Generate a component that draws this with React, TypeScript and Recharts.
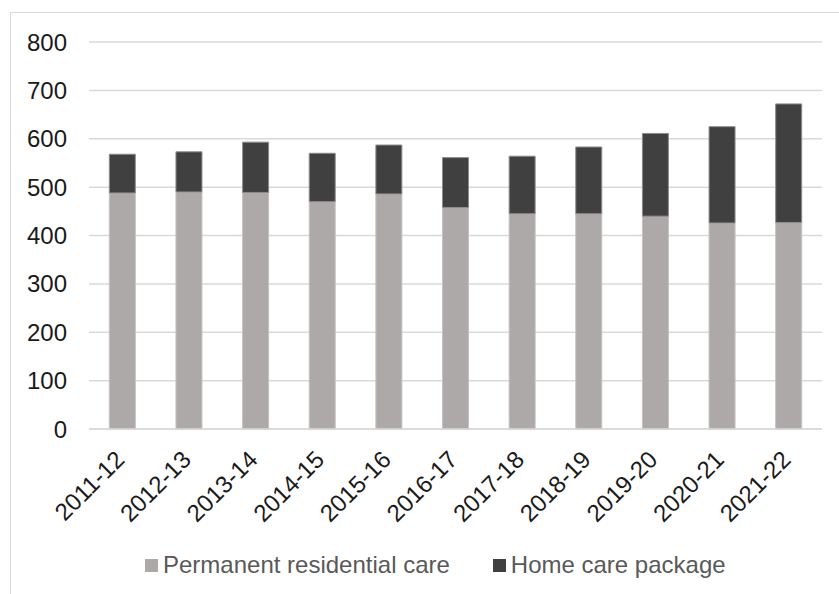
import { BarChart, Bar, XAxis, YAxis, CartesianGrid, Legend } from 'recharts';

const categories = [
  '2011-12',
  '2012-13',
  '2013-14',
  '2014-15',
  '2015-16',
  '2016-17',
  '2017-18',
  '2018-19',
  '2019-20',
  '2020-21',
  '2021-22',
];
const residentialCare = [488, 490, 489, 470, 486, 458, 445, 445, 440, 426, 427];
const homeCarePackage = [80, 83, 104, 100, 101, 103, 119, 138, 171, 199, 245];
const yTicks = [0, 100, 200, 300, 400, 500, 600, 700, 800];

const data = categories.map((year, i) => ({
  year,
  residential: residentialCare[i],
  home: homeCarePackage[i],
}));

const FONT = '"Liberation Sans", Arial, sans-serif';
const RES_COLOR = '#ADA9A8';
const HOME_COLOR = '#404040';

function YTick({ y, payload }: any) {
  return (
    <text x={67} y={y} dy="0.355em" textAnchor="end" fontSize={24} fontFamily={FONT} fill="#1a1a1a">
      {payload.value}
    </text>
  );
}

function XTick({ x, payload }: any) {
  const ax = x + 3.5;
  const ay = 461;
  return (
    <text
      x={ax}
      y={ay}
      textAnchor="end"
      transform={`rotate(-45, ${ax}, ${ay})`}
      fontSize={24}
      fontFamily={FONT}
      fill="#1a1a1a"
    >
      {payload.value}
    </text>
  );
}

function ChartLegend() {
  const items = [
    { label: 'Permanent residential care', color: RES_COLOR },
    { label: 'Home care package', color: HOME_COLOR },
  ];
  return (
    <div style={{ display: 'flex', alignItems: 'center', height: 30, paddingLeft: 145 }}>
      {items.map((item, i) => (
        <div key={item.label} style={{ display: 'flex', alignItems: 'center', marginLeft: i === 0 ? 0 : 43 }}>
          <span style={{ width: 13, height: 13, background: item.color, display: 'inline-block', marginRight: 5 }} />
          <span style={{ fontSize: 24, fontFamily: FONT, color: '#595959', lineHeight: '30px' }}>{item.label}</span>
        </div>
      ))}
    </div>
  );
}

export default function App() {
  return (
    <div
      style={{
        position: 'absolute',
        left: 0,
        top: 0,
        width: 839,
        height: 594,
        overflow: 'hidden',
        background: '#fff',
      }}
    >
      <div
        style={{
          position: 'absolute',
          left: 10,
          top: 12,
          width: 900,
          height: 700,
          border: '1px solid #D9D9D9',
        }}
      />
      <BarChart
        width={839}
        height={594}
        data={data}
        margin={{ top: 42, right: 17, left: 0, bottom: 14 }}
        barCategoryGap="30.5%"
      >
        <CartesianGrid vertical={false} stroke="#D9D9D9" strokeWidth={1.5} />
        <XAxis
          dataKey="year"
          height={121}
          axisLine={{ stroke: '#D9D9D9', strokeWidth: 1.5 }}
          tickLine={false}
          interval={0}
          tick={<XTick />}
        />
        <YAxis
          width={89}
          domain={[0, 800]}
          ticks={yTicks}
          axisLine={false}
          tickLine={false}
          tick={<YTick />}
        />
        <Legend
          verticalAlign="bottom"
          wrapperStyle={{ left: 0, width: 839, height: 30 }}
          content={() => <ChartLegend />}
        />
        <Bar
          dataKey="residential"
          stackId="care"
          fill={RES_COLOR}
          stroke="#C4C1C0"
          strokeWidth={1}
          isAnimationActive={false}
        />
        <Bar
          dataKey="home"
          stackId="care"
          fill={HOME_COLOR}
          stroke="#8C8C8C"
          strokeWidth={1}
          isAnimationActive={false}
        />
      </BarChart>
    </div>
  );
}
